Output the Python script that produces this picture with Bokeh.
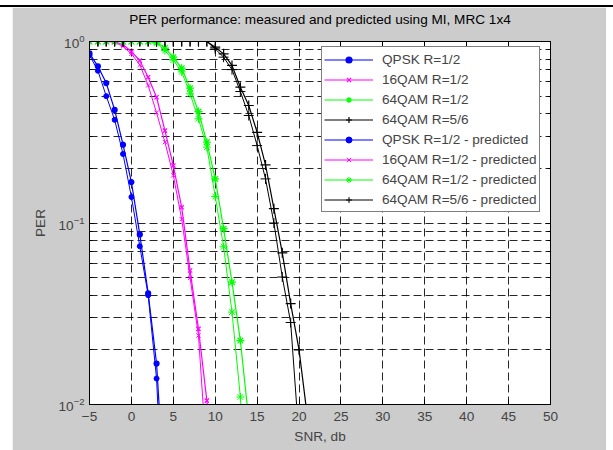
from bokeh.plotting import figure
from bokeh.models import (LinearAxis, LogAxis, FixedTicker, Legend, LegendItem,
                          Spacer, Range1d, CustomJSTickFormatter)
from bokeh.layouts import column, row
from bokeh.embed import file_html
from bokeh.resources import INLINE

# ---------------- data ----------------
title_text = "PER performance: measured and predicted using MI, MRC 1x4"
x_ticks = [-5, 0, 5, 10, 15, 20, 25, 30, 35, 40, 45, 50]
y_ticks = [0.01, 0.1, 1.0]
y_minor = [0.02, 0.03, 0.04, 0.05, 0.06, 0.07, 0.08, 0.09,
           0.2, 0.3, 0.4, 0.5, 0.6, 0.7, 0.8, 0.9]

qpsk_snr = [-5, -4, -3, -2, -1, 0, 1, 2, 3, 4]
qpsk_meas = [0.86, 0.73, 0.59, 0.42, 0.27, 0.168, 0.0865, 0.041, 0.0168, 0.003]
qpsk_pred = [0.84, 0.69, 0.50, 0.37, 0.24, 0.139, 0.0745, 0.040, 0.0139, 0.0015]

qam16_snr = [-5, -4, -3, -2, -1, 0, 1, 2, 3, 4, 5, 6, 7, 8, 9, 10]
qam16_meas = [1.0, 1.0, 1.0, 1.0, 0.96, 0.88, 0.786, 0.636, 0.493, 0.323, 0.207, 0.122, 0.0547, 0.0261, 0.0105, 0.003]
qam16_pred = [1.0, 1.0, 1.0, 0.99, 0.94, 0.855, 0.744, 0.573, 0.405, 0.279, 0.183, 0.105, 0.0499, 0.024, 0.005, 0.001]

qam64_12_snr = [-5, -4, -3, -2, -1, 0, 1, 2, 3, 4, 5, 6, 7, 8, 9, 10, 11, 12, 13, 14]
qam64_12_meas = [1.0, 1.0, 1.0, 1.0, 1.0, 1.0, 1.0, 1.0, 0.99, 0.92, 0.82, 0.713, 0.553, 0.411, 0.279, 0.175, 0.093, 0.0472, 0.0225, 0.0082]
qam64_12_pred = [1.0, 1.0, 1.0, 1.0, 1.0, 1.0, 1.0, 1.0, 0.98, 0.89, 0.79, 0.68, 0.515, 0.375, 0.262, 0.140, 0.074, 0.0323, 0.011, 0.002]

qam64_56_snr = [-5, -4, -3, -2, -1, 0, 1, 2, 3, 4, 5, 6, 7, 8, 9, 10, 11, 12, 13, 14, 15, 16, 17, 18, 19, 20, 21]
qam64_56_meas = [1.0, 1.0, 1.0, 1.0, 1.0, 1.0, 1.0, 1.0, 1.0, 1.0, 1.0, 1.0, 1.0, 1.0, 1.0, 0.93, 0.855, 0.738, 0.56, 0.444, 0.316, 0.209, 0.12, 0.0685, 0.036, 0.02, 0.0085]
qam64_56_pred = [1.0, 1.0, 1.0, 1.0, 1.0, 1.0, 1.0, 1.0, 1.0, 1.0, 1.0, 1.0, 1.0, 1.0, 1.0, 0.91, 0.82, 0.70, 0.53, 0.391, 0.267, 0.175, 0.10, 0.0504, 0.0283, 0.0065, 0.002]

labels = ["QPSK R=1/2", "16QAM R=1/2", "64QAM R=1/2", "64QAM R=5/6"]

FONT = "Liberation Sans"
FS = "13.6px"

p = figure(width=594, height=443, x_range=Range1d(-5, 50), y_range=Range1d(0.01, 1),
           y_axis_type="log", output_backend="svg", toolbar_location=None,
           min_border_left=77, min_border_right=56, min_border_top=34, min_border_bottom=46)

p.background_fill_color = "white"
p.border_fill_color = "#cccccc"
p.outline_line_color = "black"

y_ticker = FixedTicker(ticks=y_ticks, minor_ticks=y_minor)
x_ticker = FixedTicker(ticks=x_ticks)

p.xaxis.ticker = x_ticker
p.xgrid.ticker = x_ticker
p.yaxis.ticker = y_ticker
p.ygrid.ticker = y_ticker

# grid
for g in (p.xgrid, p.ygrid):
    g.grid_line_color = "black"
    g.grid_line_dash = "8 4"
    g.grid_line_width = 1
    g.grid_line_alpha = 0.85
p.ygrid.minor_grid_line_color = "black"
p.ygrid.minor_grid_line_dash = "8 4"
p.ygrid.minor_grid_line_alpha = 0.85

p.xaxis.axis_label = "SNR, db"
p.yaxis.axis_label = "PER"

for ax in (p.xaxis[0], p.yaxis[0]):
    ax.axis_label_text_font = FONT
    ax.axis_label_text_font_size = FS
    ax.axis_label_text_font_style = "normal"
    ax.major_label_text_font = FONT
    ax.major_label_text_font_size = FS
    ax.major_tick_in = 5
    ax.major_tick_out = 0
    ax.minor_tick_in = 3
    ax.minor_tick_out = 0
    ax.axis_line_color = "black"
    ax.major_tick_line_color = "black"
    ax.minor_tick_line_color = "black"
p.xaxis.minor_tick_line_color = None
p.xaxis.major_label_standoff = 7
p.yaxis.major_label_standoff = 5
p.xaxis.axis_label_standoff = 5
p.yaxis.axis_label_standoff = 8

# top axis carries the title as its label
top = LinearAxis(ticker=x_ticker, formatter=CustomJSTickFormatter(code="return ''"),
                 major_tick_in=5, major_tick_out=0, minor_tick_line_color=None,
                 major_label_standoff=0, major_label_text_font_size="1px",
                 axis_label=title_text, axis_label_text_font=FONT,
                 axis_label_text_font_size=FS, axis_label_text_font_style="normal",
                 axis_label_text_color="black", axis_label_standoff=15)
p.add_layout(top, "above")
right = LogAxis(ticker=y_ticker, formatter=CustomJSTickFormatter(code="return ''"),
                major_tick_in=5, major_tick_out=0, minor_tick_in=3, minor_tick_out=0,
                major_label_standoff=0, major_label_text_font_size="1px")
p.add_layout(right, "right")

series = [
    (qpsk_snr, qpsk_meas, qpsk_pred, "#0000ff", "circle", 5),
    (qam16_snr, qam16_meas, qam16_pred, "#ff00ff", "x", 6),
    (qam64_12_snr, qam64_12_meas, qam64_12_pred, "#00ff00", "asterisk", 8),
    (qam64_56_snr, qam64_56_meas, qam64_56_pred, "black", "cross", 10),
]

meas_items = []
pred_items = []
for (xs, ym, yp, col, mk, sz), lab in zip(series, labels):
    l1 = p.line(xs, ym, line_color=col, line_width=1.2)
    s1 = p.scatter(xs, ym, marker=mk, size=sz, line_color=col, fill_color=col, line_width=1.2)
    l2 = p.line(xs, yp, line_color=col, line_width=1)
    s2 = p.scatter(xs, yp, marker=mk, size=sz, line_color=col, fill_color=col, line_width=1)
    meas_items.append(LegendItem(label=lab, renderers=[l1, s1]))
    pred_items.append(LegendItem(label=lab + " - predicted", renderers=[l2, s2]))

legend = Legend(items=meas_items + pred_items, location=(232, 192))
legend.label_text_font = FONT
legend.label_text_font_size = FS
legend.label_height = 20
legend.glyph_height = 15
legend.glyph_width = 49
legend.label_standoff = 9
legend.spacing = 0
legend.padding = 2
legend.margin = 0
legend.border_line_color = "black"
legend.border_line_width = 1
legend.background_fill_color = "white"
legend.background_fill_alpha = 1
p.add_layout(legend)

top_gap = Spacer(width=613, height=5)
black_line = Spacer(width=613, height=2, styles={"background-color": "black"})
left_gap = Spacer(width=12, height=443)
lay = column(top_gap, black_line, row(left_gap, p))

open("out.html", "w").write(file_html(lay, INLINE))
